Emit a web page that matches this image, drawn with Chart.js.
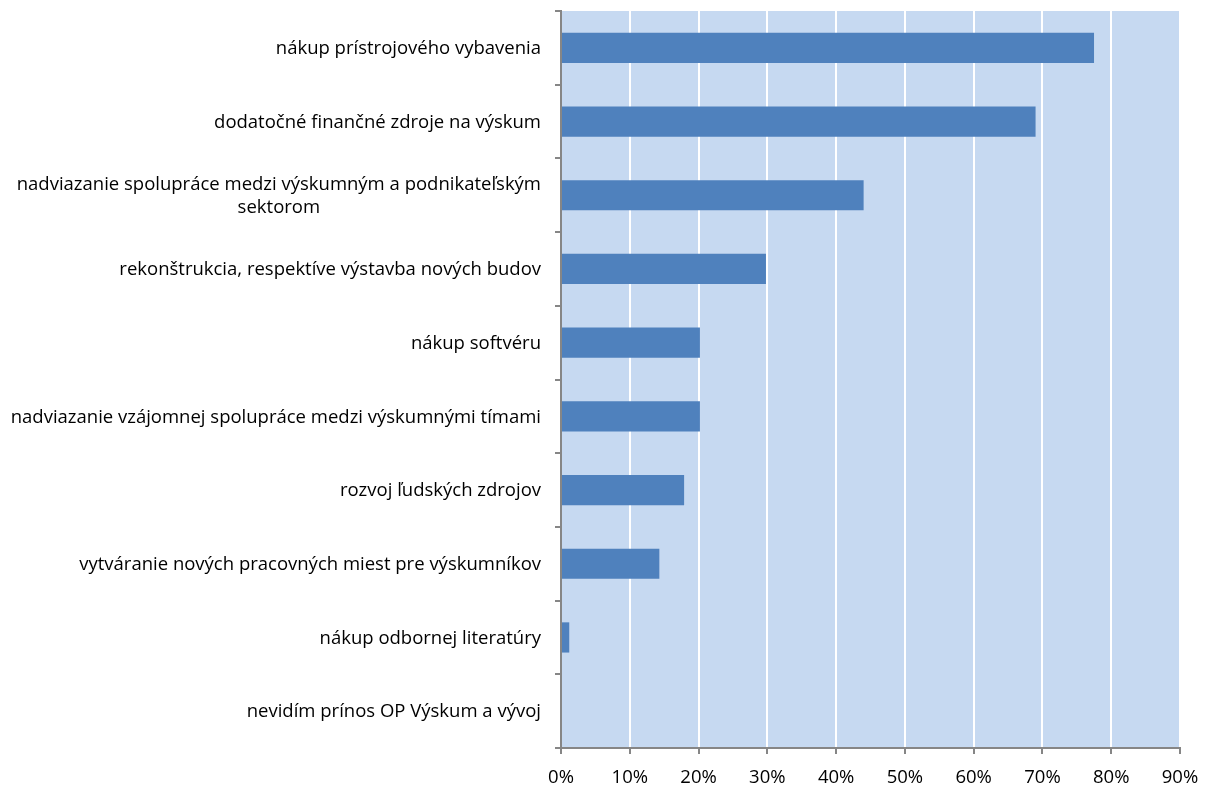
<!DOCTYPE html>
<html lang="sk">
<head>
  <meta charset="UTF-8">
  <title>Prínos OP Výskum a vývoj</title>
  <script src="https://cdn.jsdelivr.net/npm/chart.js"></script>
  <style>
    html, body { margin:0; padding:0; background:#fff; }
    #wrap { width:1205px; height:787px; position:relative; }
  </style>
</head>
<body>
  <div id="wrap"><canvas id="chart"></canvas></div>
  <script>
    // dáta odčítané z grafu
    const categories = [
      'nákup prístrojového vybavenia',
      'dodatočné finančné zdroje na výskum',
      ['nadviazanie spolupráce medzi výskumným a podnikateľským', 'sektorom'],
      'rekonštrukcia, respektíve výstavba nových budov',
      'nákup softvéru',
      'nadviazanie vzájomnej spolupráce medzi výskumnými tímami',
      'rozvoj ľudských zdrojov',
      'vytváranie nových pracovných miest pre výskumníkov',
      'nákup odbornej literatúry',
      'nevidím prínos OP Výskum a vývoj'
    ];
    const values = [77.5, 69, 44, 29.8, 20.2, 20.2, 17.9, 14.3, 1.2, 0];
    const xTicks = [0, 10, 20, 30, 40, 50, 60, 70, 80, 90];

    const FONT = '"Open Sans", sans-serif';
    const FSIZE = 18.5;

    // pozadie plochy grafu
    const plotBg = {
      id: 'plotBg',
      beforeDraw(chart) {
        const a = chart.chartArea, ctx = chart.ctx;
        ctx.save();
        ctx.fillStyle = '#C6D9F1';
        ctx.fillRect(a.left, a.top, a.right - a.left, a.bottom - a.top);
        ctx.restore();
      }
    };

    // popisky kategórií (druhý riadok centrovaný pod prvým)
    const catLabels = {
      id: 'catLabels',
      afterDraw(chart) {
        const y = chart.scales.y, ctx = chart.ctx;
        const right = y.right - 20;
        ctx.save();
        ctx.font = FSIZE + 'px ' + FONT;
        ctx.fillStyle = '#000';
        ctx.textBaseline = 'middle';
        categories.forEach((lab, i) => {
          const cy = y.getPixelForValue(i) + 1;
          const lines = Array.isArray(lab) ? lab : [lab];
          const w = Math.max(...lines.map(l => ctx.measureText(l).width));
          const lh = 23;
          lines.forEach((l, j) => {
            const ly = cy + (j - (lines.length - 1) / 2) * lh;
            ctx.textAlign = 'center';
            ctx.fillText(l, right - w / 2, ly);
          });
        });
        ctx.restore();
      }
    };

    new Chart(document.getElementById('chart'), {
      type: 'bar',
      data: {
        labels: categories,
        datasets: [{
          data: values,
          backgroundColor: '#4F81BD',
          barPercentage: 0.41,
          categoryPercentage: 1
        }]
      },
      options: {
        indexAxis: 'y',
        responsive: true,
        maintainAspectRatio: false,
        animation: false,
        layout: { padding: { top: 11, right: 25, bottom: 0, left: 0 } },
        plugins: { legend: { display: false }, tooltip: { enabled: false } },
        scales: {
          x: {
            min: 0, max: 90,
            afterBuildTicks(s) { s.ticks = xTicks.map(v => ({ value: v })); },
            afterFit(s) { s.height = 39; s.paddingLeft = 0; s.paddingRight = 0; },
            grid: { color: '#FFFFFF', lineWidth: 2, tickColor: '#868686', tickLength: 6 },
            border: { color: '#868686', width: 2 },
            ticks: {
              color: '#000', padding: 13, maxRotation: 0,
              font: { family: FONT, size: FSIZE },
              callback: v => v + '%'
            }
          },
          y: {
            offset: true,
            afterFit(s) { s.width = 561; },
            grid: { offset: true, drawOnChartArea: false, color: '#868686', lineWidth: 2, tickLength: 6 },
            border: { color: '#868686', width: 2 },
            ticks: { display: false }
          }
        }
      },
      plugins: [plotBg, catLabels]
    });
  </script>
</body>
</html>
